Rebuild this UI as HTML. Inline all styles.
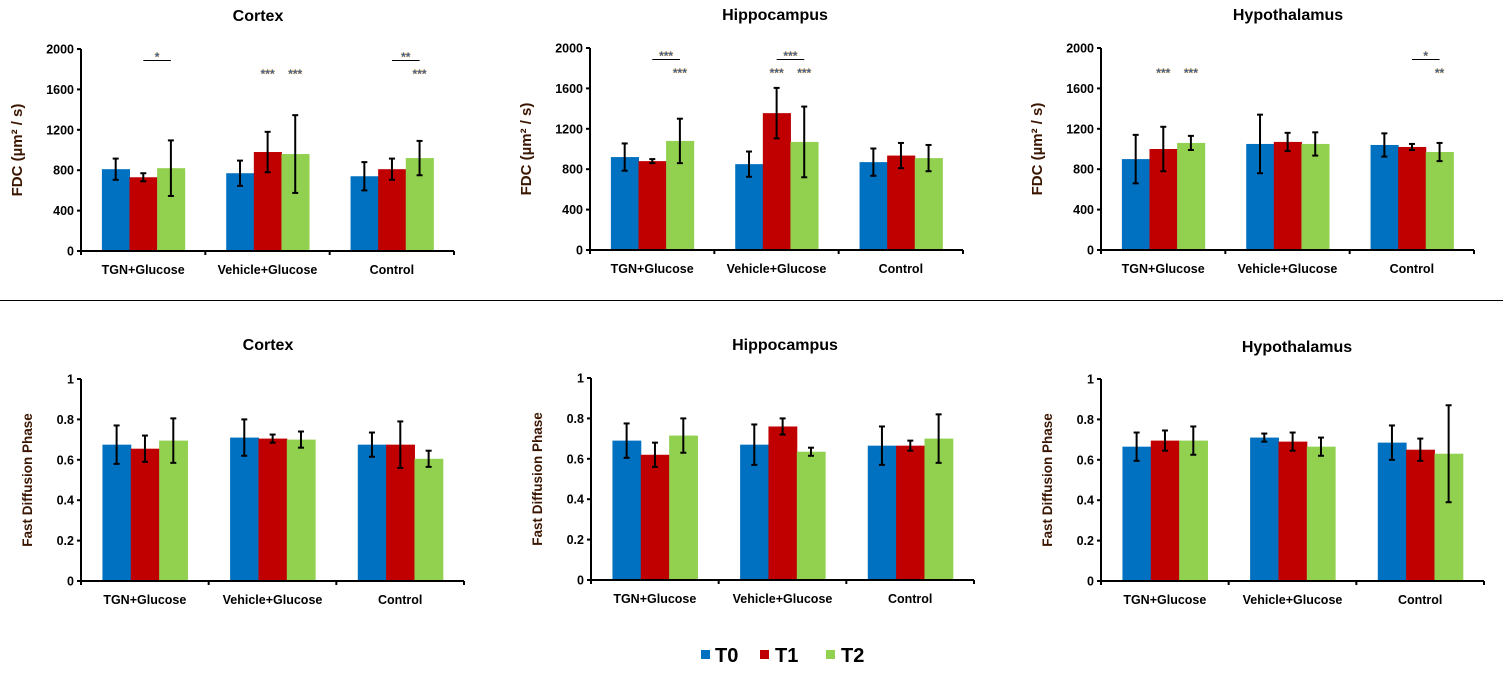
<!DOCTYPE html>
<html><head><meta charset="utf-8"><style>
body{margin:0;background:#fff;width:1507px;height:670px;overflow:hidden}
svg text{font-family:"Liberation Sans",Arial,sans-serif;font-weight:bold}
</style></head><body>
<svg id="s" width="1507" height="670" xmlns="http://www.w3.org/2000/svg">
<line x1="0" y1="300.5" x2="1503" y2="300.5" stroke="#000" stroke-width="1"/>
<g>
<rect x="701" y="650" width="9" height="9" fill="#0070c0"/>
<text x="715" y="662" font-size="20">T0</text>
<rect x="760" y="650" width="9" height="9" fill="#c00000"/>
<text x="775" y="662" font-size="20">T1</text>
<rect x="826" y="650" width="9" height="9" fill="#92d050"/>
<text x="841" y="662" font-size="20">T2</text>
</g>
</svg>
<script>
const categories=["TGN+Glucose","Vehicle+Glucose","Control"];
const seriesNames=["T0","T1","T2"];
const fdcTicks=[0,400,800,1200,1600,2000];
const fdpTicks=[0,0.2,0.4,0.6,0.8,1];
const fdcTickLabels=["0","400","800","1200","1600","2000"];
const fdpTickLabels=["0","0.2","0.4","0.6","0.8","1"];
// FDC means / errors [group][series]
const cortexFdc=[[810,730,820],[770,980,960],[740,810,920]];
const cortexFdcErr=[[105,40,275],[125,200,385],[140,105,170]];
const hippoFdc=[[920,880,1080],[850,1355,1070],[870,935,910]];
const hippoFdcErr=[[135,20,220],[125,250,350],[135,125,130]];
const hypoFdc=[[900,1000,1060],[1050,1070,1050],[1040,1020,970]];
const hypoFdcErr=[[240,220,70],[290,90,115],[115,30,90]];
const cortexFdp=[[0.675,0.655,0.695],[0.71,0.705,0.70],[0.675,0.675,0.605]];
const cortexFdpErr=[[0.095,0.065,0.11],[0.09,0.02,0.04],[0.06,0.115,0.04]];
const hippoFdp=[[0.69,0.62,0.715],[0.67,0.76,0.635],[0.665,0.665,0.70]];
const hippoFdpErr=[[0.085,0.06,0.085],[0.1,0.04,0.02],[0.095,0.025,0.12]];
const hypoFdp=[[0.665,0.695,0.695],[0.71,0.69,0.665],[0.685,0.65,0.63]];
const hypoFdpErr=[[0.07,0.05,0.07],[0.02,0.045,0.045],[0.085,0.055,0.24]];

const colors=["#0070c0","#c00000","#92d050"];
const NS="http://www.w3.org/2000/svg";
const svg=document.getElementById('s');
function mk(tag,attrs,parent){const e=document.createElementNS(NS,tag);for(const k in attrs)e.setAttribute(k,attrs[k]);(parent||svg).appendChild(e);return e;}

const panels=[
 {key:"cortex-fdc",title:"Cortex",tx:258,ty:21,x0:81,x1:454,y0:251,y1:49,max:2000,vals:cortexFdc,errs:cortexFdcErr,ticks:fdcTicks,tl:fdcTickLabels,ylab:"FDC  (µm² / s)",ylx:22,
  ann:[{t:"*",g:0,s:1.5,row:0,line:true},{t:"***",g:1,s:1,row:1},{t:"***",g:1,s:2,row:1},{t:"**",g:2,s:1.5,row:0,line:true},{t:"***",g:2,s:2,row:1}]},
 {key:"hippocampus-fdc",title:"Hippocampus",tx:775,ty:20,x0:590,x1:963,y0:250,y1:48,max:2000,vals:hippoFdc,errs:hippoFdcErr,ticks:fdcTicks,tl:fdcTickLabels,ylab:"FDC  (µm² / s)",ylx:531,
  ann:[{t:"***",g:0,s:1.5,row:0,line:true},{t:"***",g:0,s:2,row:1},{t:"***",g:1,s:1.5,row:0,line:true},{t:"***",g:1,s:1,row:1},{t:"***",g:1,s:2,row:1}]},
 {key:"hypothalamus-fdc",title:"Hypothalamus",tx:1288,ty:20,x0:1101,x1:1474,y0:250,y1:48,max:2000,vals:hypoFdc,errs:hypoFdcErr,ticks:fdcTicks,tl:fdcTickLabels,ylab:"FDC  (µm² / s)",ylx:1042,
  ann:[{t:"***",g:0,s:1,row:1},{t:"***",g:0,s:2,row:1},{t:"*",g:2,s:1.5,row:0,line:true},{t:"**",g:2,s:2,row:1}]},
 {key:"cortex-fdp",title:"Cortex",tx:268,ty:350,x0:81,x1:464,y0:581,y1:379,max:1,vals:cortexFdp,errs:cortexFdpErr,ticks:fdpTicks,tl:fdpTickLabels,ylab:"Fast Diffusion Phase",ylx:32,ann:[]},
 {key:"hippocampus-fdp",title:"Hippocampus",tx:785,ty:350,x0:591,x1:974,y0:580,y1:378,max:1,vals:hippoFdp,errs:hippoFdpErr,ticks:fdpTicks,tl:fdpTickLabels,ylab:"Fast Diffusion Phase",ylx:542,ann:[]},
 {key:"hypothalamus-fdp",title:"Hypothalamus",tx:1297,ty:352,x0:1101,x1:1484,y0:581,y1:379,max:1,vals:hypoFdp,errs:hypoFdpErr,ticks:fdpTicks,tl:fdpTickLabels,ylab:"Fast Diffusion Phase",ylx:1052,ann:[]}
];

panels.forEach(p=>{
 const g=mk('g',{});
 
 
 const y=v=>p.y0-(v/p.max)*(p.y0-p.y1);
 const gw=(p.x1-p.x0)/3, bw=gw*0.222, off=gw*0.168;
 const bx=(gi,si)=>p.x0+gi*gw+off+si*bw;
 const t=mk('text',{x:p.tx,y:p.ty,'font-size':16,'text-anchor':'middle',fill:'#000'},g);
 t.textContent=p.title;
 
 
 p.vals.forEach((grp,gi)=>grp.forEach((v,si)=>{
  const r=mk('rect',{x:bx(gi,si),y:y(v),width:bw+0.5,height:p.y0-y(v),fill:colors[si]},g);
  
  
 }));
 p.vals.forEach((grp,gi)=>grp.forEach((v,si)=>{
  const e=p.errs[gi][si], cx=bx(gi,si)+bw/2, hi=y(v+e), lo=y(v-e);
  const eg=mk('g',{stroke:'#000','stroke-width':2},g);
  
  
  mk('line',{x1:cx,y1:hi,x2:cx,y2:lo},eg);
  mk('line',{x1:cx-3,y1:hi,x2:cx+3,y2:hi},eg);
  mk('line',{x1:cx-3,y1:lo,x2:cx+3,y2:lo},eg);
 }));
 const ax=mk('g',{stroke:'#000','stroke-width':2},g);
 
 
 mk('line',{x1:p.x0,y1:p.y1,x2:p.x0,y2:p.y0+1},ax);
 mk('line',{x1:p.x0-1,y1:p.y0,x2:p.x1,y2:p.y0},ax);
 for(let i=0;i<=3;i++)mk('line',{x1:p.x0+i*gw,y1:p.y0,x2:p.x0+i*gw,y2:p.y0+4},ax);
 p.ticks.forEach((tv,i)=>{
  mk('line',{x1:p.x0-4,y1:y(tv),x2:p.x0,y2:y(tv)},ax);
  const tt=mk('text',{x:p.x0-7,y:y(tv)+4.5,'font-size':12.5,'text-anchor':'end',fill:'#000'},g);
  tt.textContent=p.tl[i];
  
  
 });
 categories.forEach((c,gi)=>{
  const ct=mk('text',{x:p.x0+gi*gw+gw/2,y:p.y0+23,'font-size':12.5,'text-anchor':'middle',fill:'#000'},g);
  ct.textContent=c;
  
  
 });
 const yc=(p.y0+p.y1)/2;
 const yl=mk('text',{x:p.ylx,y:yc,'font-size':p.max>1?15:13.5,'text-anchor':'middle',fill:'#3a1500',transform:`rotate(-90 ${p.ylx} ${yc})`},g);
 yl.textContent=p.ylab;
 
 
 p.ann.forEach(a=>{
  const cx=p.x0+a.g*gw+off+a.s*bw+bw/2;
  const ty=a.row===0?p.y1+12:p.y1+29;
  const at=mk('text',{x:cx,y:ty,'font-size':12,'text-anchor':'middle',fill:'#1f5fb0',stroke:'#d08a30','stroke-width':0.3},g);
  at.textContent=a.t;
  
  
  if(a.line){
   const l=mk('line',{x1:cx-bw/2,y1:p.y1+11.5,x2:cx+bw/2,y2:p.y1+11.5,stroke:'#000','stroke-width':1},g);
   
   
  }
 });
});
</script>
</body></html>
